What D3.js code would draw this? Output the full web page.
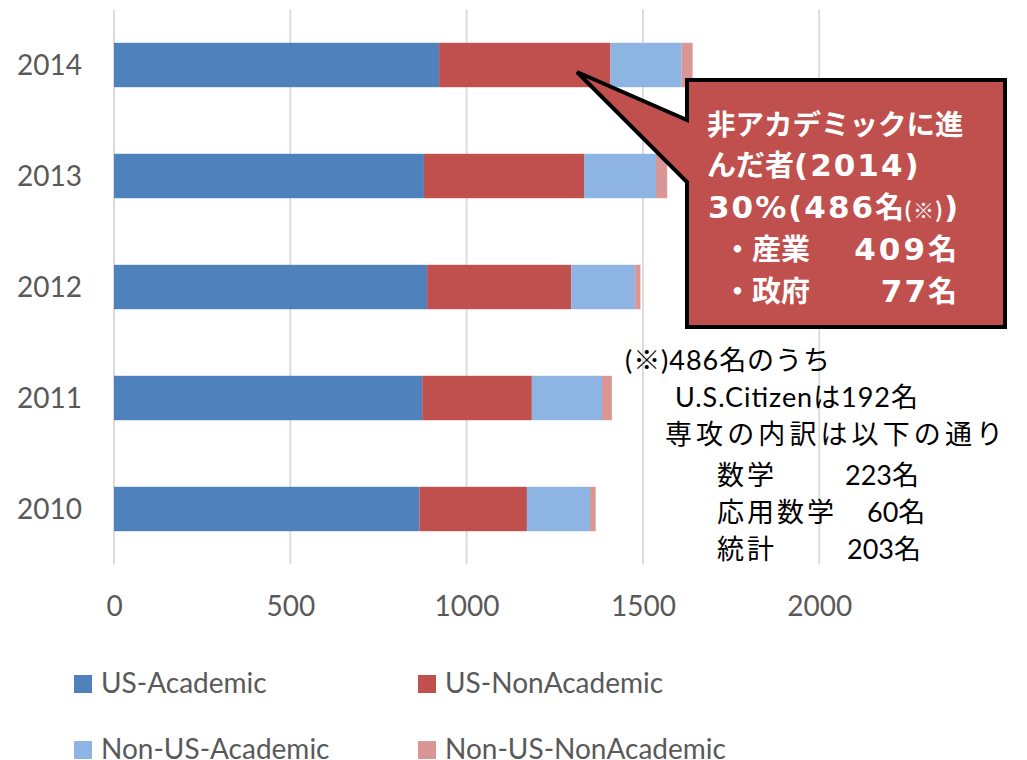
<!DOCTYPE html>
<html>
<head>
<meta charset="utf-8">
<script src="https://cdn.jsdelivr.net/npm/d3@7/dist/d3.min.js"></script>
<style>
  html, body { margin: 0; padding: 0; background: #fff; }
  svg { display: block; }
</style>
</head>
<body>
<script>
// Career destinations of new PhDs by year (stacked counts)
const years = ["2010", "2011", "2012", "2013", "2014"];
const usAcademic = [866, 874, 888, 879, 922];
const usNonAcademic = [305, 311, 409, 454, 486];
const nonUsAcademic = [179, 199, 181, 204, 202];
const nonUsNonAcademic = [16, 28, 15, 32, 31];

const seriesNames = ["US-Academic", "US-NonAcademic", "Non-US-Academic", "Non-US-NonAcademic"];
const seriesColors = ["#4F81BD", "#C0504D", "#8EB4E3", "#D99694"];
const xTicks = [0, 500, 1000, 1500, 2000];

const W = 1027, H = 760;
const latin = "Lato, 'Noto Sans CJK JP', sans-serif";
const jp = "'Noto Sans CJK JP', sans-serif";
const wideLatin = "'DejaVu Sans', 'Noto Sans CJK JP', sans-serif";

const svg = d3.select("body").append("svg").attr("width", W).attr("height", H);

const x = d3.scaleLinear().domain([0, 2500]).range([114, 995.5]);
const y = d3.scaleBand().domain(years.slice().reverse()).range([9.5, 564.5])
  .paddingInner(0.6).paddingOuter(0.3);

// table for the stack layout
const rows = years.map((yr, i) => ({
  year: yr,
  "US-Academic": usAcademic[i],
  "US-NonAcademic": usNonAcademic[i],
  "Non-US-Academic": nonUsAcademic[i],
  "Non-US-NonAcademic": nonUsNonAcademic[i]
}));
const stacked = d3.stack().keys(seriesNames)(rows);
const color = d3.scaleOrdinal().domain(seriesNames).range(seriesColors);

// vertical gridlines
svg.append("g")
  .selectAll("line").data(xTicks).join("line")
  .attr("x1", d => x(d)).attr("x2", d => x(d))
  .attr("y1", 9.5).attr("y2", 564.5)
  .attr("stroke", "#d9d9d9").attr("stroke-width", 1.8);

// stacked bars
svg.append("g")
  .selectAll("g").data(stacked).join("g")
  .attr("fill", d => color(d.key))
  .selectAll("rect").data(d => d).join("rect")
  .attr("x", d => x(d[0]))
  .attr("width", d => x(d[1]) - x(d[0]))
  .attr("y", d => y(d.data.year))
  .attr("height", y.bandwidth());

// x axis labels
const xAxis = svg.append("g")
  .attr("transform", "translate(0,616)")
  .call(d3.axisBottom(x).tickValues(xTicks).tickSize(0).tickPadding(0).tickFormat(d3.format("d")));
xAxis.select(".domain").remove();
xAxis.selectAll("text")
  .attr("dy", 0).attr("y", 0)
  .attr("font-family", latin).attr("font-size", 28).attr("fill", "#595959");

// y axis labels
const yAxis = svg.append("g")
  .attr("transform", "translate(82,0)")
  .call(d3.axisLeft(y).tickSize(0).tickPadding(0));
yAxis.select(".domain").remove();
yAxis.selectAll("text")
  .attr("dy", "0.34em")
  .attr("font-family", latin).attr("font-size", 28).attr("fill", "#595959");

// legend
const legendPos = [[74, 675], [418, 675], [74, 741], [418, 741]];
const legend = svg.append("g").selectAll("g").data(seriesNames).join("g")
  .attr("transform", (d, i) => `translate(${legendPos[i][0]},${legendPos[i][1]})`);
legend.append("rect").attr("width", 18).attr("height", 18).attr("fill", d => color(d));
legend.append("text").attr("x", 27).attr("y", 18)
  .attr("font-family", latin).attr("font-size", 28).attr("fill", "#595959")
  .text(d => d);

// callout for 2014 non-academic share
svg.append("path")
  .attr("d", "M687,80 H1005 V327 H687 V182 L577,72 L687,120 Z")
  .attr("fill", "#C0504D").attr("stroke", "#000").attr("stroke-width", 4)
  .attr("stroke-linejoin", "miter");

// write a line as runs: ASCII runs in a wide bold face, CJK runs in Noto
function boldLine(g, str, px, py, anchor, spacing, smallRun) {
  const t = g.append("text").attr("x", px).attr("y", py)
    .attr("text-anchor", anchor || "start");
  const runs = str.match(/[\x20-\x7E]+|[^\x20-\x7E]+/g);
  runs.forEach(r => {
    const ascii = /^[\x20-\x7E]+$/.test(r);
    const sp = t.append("tspan").text(r)
      .attr("font-family", ascii ? wideLatin : jp)
      .attr("font-size", ascii ? 31 : 29)
      .attr("letter-spacing", ascii ? (spacing || 0) : 0);
  });
  return t;
}

const cw = svg.append("g").attr("fill", "#fff").attr("font-weight", "bold");
cw.append("text").attr("x", 707).attr("y", 135)
  .attr("font-family", jp).attr("font-size", 28.5).text("非アカデミックに進");
boldLine(cw, "んだ者(2014)", 707, 176, "start", 2);
const l3 = cw.append("text").attr("x", 708).attr("y", 218);
l3.append("tspan").attr("font-family", wideLatin).attr("font-size", 31).attr("letter-spacing", 2).text("30%(486");
l3.append("tspan").attr("font-family", jp).attr("font-size", 29).text("名");
l3.append("tspan").attr("font-family", jp).attr("font-size", 21).attr("letter-spacing", 1).text("(※)");
l3.append("tspan").attr("font-family", wideLatin).attr("font-size", 31).text(")");
cw.append("text").attr("x", 723).attr("y", 260).attr("font-family", jp).attr("font-size", 29).text("・産業");
boldLine(cw, "409名", 957, 260, "end", 3);
cw.append("text").attr("x", 723).attr("y", 302).attr("font-family", jp).attr("font-size", 29).text("・政府");
boldLine(cw, "77名", 957, 302, "end", 2);

// footnote on the 486 non-academic hires
const note = svg.append("g").attr("fill", "#000")
  .attr("font-family", latin).attr("font-size", 27);
note.append("text").attr("x", 625).attr("y", 370)
  .attr("textLength", 205).attr("lengthAdjust", "spacing").text("(※)486名のうち");
note.append("text").attr("x", 675).attr("y", 407)
  .attr("textLength", 243).attr("lengthAdjust", "spacing").text("U.S.Citizenは192名");
note.append("text").attr("x", 665).attr("y", 444)
  .attr("textLength", 338).attr("lengthAdjust", "spacing").text("専攻の内訳は以下の通り");
note.append("text").attr("x", 717).attr("y", 485).attr("letter-spacing", 3).text("数学");
note.append("text").attr("x", 845).attr("y", 485).text("223名");
note.append("text").attr("x", 717).attr("y", 522).attr("letter-spacing", 3).text("応用数学");
note.append("text").attr("x", 867).attr("y", 522).text("60名");
note.append("text").attr("x", 717).attr("y", 559).attr("letter-spacing", 3).text("統計");
note.append("text").attr("x", 847).attr("y", 559).text("203名");
</script>
</body>
</html>
